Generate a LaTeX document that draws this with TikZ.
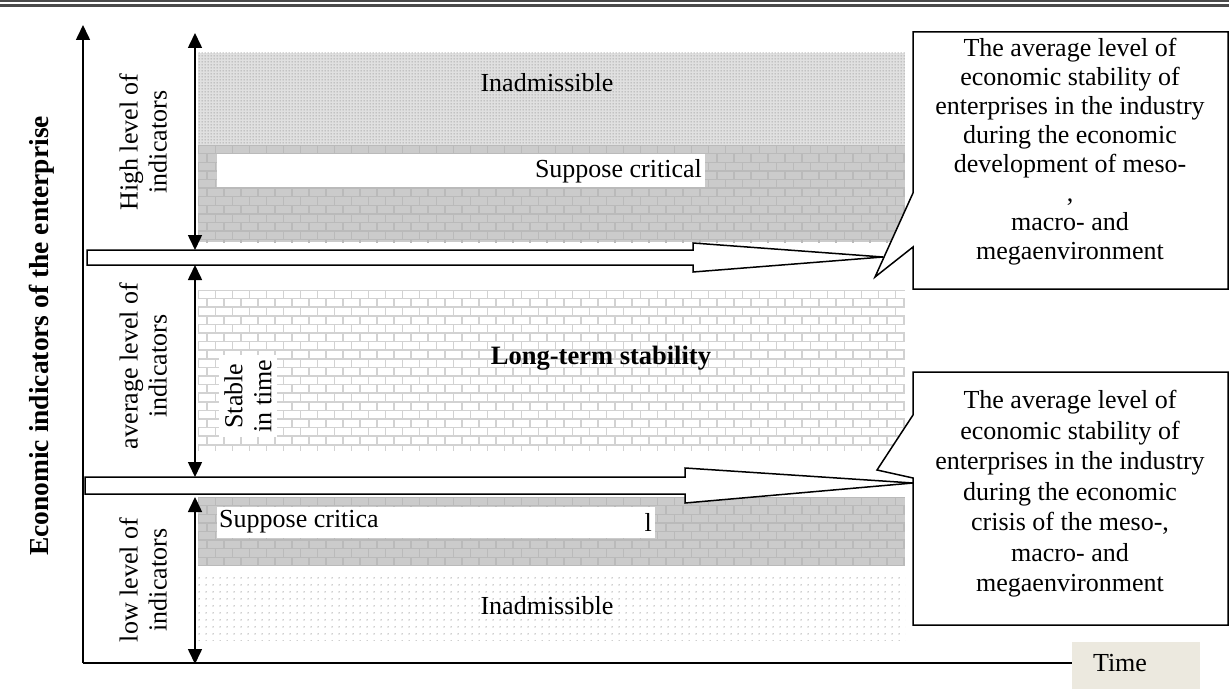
\documentclass[tikz,border=0pt]{standalone}
\usepackage{fontspec}
\setmainfont{Liberation Serif}
\usetikzlibrary{arrows.meta,patterns.meta}
\definecolor{topbar}{HTML}{4A4A4A}
\definecolor{timebg}{HTML}{ECE9DF}
\definecolor{darkbrick}{HTML}{CBCBCB}
\definecolor{darkmortar}{HTML}{BABABA}
\definecolor{lightmortar}{HTML}{D2D2D2}
\tikzdeclarepattern{name=densedots, type=uncolored, bounding box={(0pt,0pt) and (3pt,3pt)}, tile size={(3pt,3pt)}, code={\fill (1.5pt,1.5pt) circle (0.8pt);}}
\tikzdeclarepattern{name=sparsedots, type=uncolored, bounding box={(0pt,0pt) and (7pt,7pt)}, tile size={(7pt,7pt)}, code={\fill (3.5pt,3.5pt) circle (0.8pt);}}
\tikzset{
  txt/.style={font=\fontsize{26}{29}\selectfont, inner sep=0pt},
  lbl/.style={txt, align=center, rotate=90},
  dbl/.style={line width=1.6pt, {Triangle[length=15pt,width=14pt]}-{Triangle[length=15pt,width=14pt]}},
  hollow/.style={draw, line width=1.5pt, fill=white, line join=miter},
  callout/.style={draw, line width=1.5pt, fill=white, line join=miter},
  darkm/.style={draw=darkmortar, line width=1.4pt},
  lightm/.style={draw=lightmortar, line width=1.6pt},
}
\begin{document}
\begin{tikzpicture}[x=1pt,y=-1pt]
\useasboundingbox (0,0) rectangle (1229,693);
% top rules
\fill[topbar] (0,0) rectangle (1229,2);
\fill[topbar] (0,4.5) rectangle (1229,7.5);
% upper inadmissible (dense dots)
\fill[black!12] (198,53) rectangle (905,145);
\fill[pattern=densedots, pattern color=black!45] (198,53) rectangle (905,145);
% upper dark bricks
\begin{scope}
\clip (198,145) rectangle (905,242);
\fill[darkbrick] (198,145) rectangle (905,242);
\foreach \y [count=\i] in {145,153.6,...,245}{
  \draw[darkm] (198,\y) -- (905,\y);
  \pgfmathsetmacro\off{mod(\i,2)*8.5}
  \foreach \x in {190,207,...,905}{\draw[darkm] (\x+\off,\y) -- (\x+\off,\y+8.6);}
}
\end{scope}
% middle light bricks
\begin{scope}
\clip (198,290) rectangle (905,450);
\foreach \y [count=\i] in {290,298.6,...,452}{
  \draw[lightm] (198,\y) -- (905,\y);
  \pgfmathsetmacro\off{mod(\i,2)*8.5}
  \foreach \x in {190,207,...,905}{\draw[lightm] (\x+\off,\y) -- (\x+\off,\y+8.6);}
}
\end{scope}
% lower dark bricks
\begin{scope}
\clip (198,497) rectangle (905,565);
\fill[darkbrick] (198,497) rectangle (905,565);
\foreach \y [count=\i] in {497,505.6,...,567}{
  \draw[darkm] (198,\y) -- (905,\y);
  \pgfmathsetmacro\off{mod(\i,2)*8.5}
  \foreach \x in {190,207,...,905}{\draw[darkm] (\x+\off,\y) -- (\x+\off,\y+8.6);}
}
\end{scope}
% lower inadmissible (sparse dots)
\fill[pattern=sparsedots, pattern color=black!38] (198,577) rectangle (905,640);
% white boxes and texts
\fill[white] (217,154) rectangle (705,187);
\node[txt, anchor=east] (sc1) at (702,171) {Suppose critical};
\fill[white] (217,507) rectangle (655,538);
\node[txt, anchor=west] (sc2) at (219,522) {Suppose critica};
\node[txt, anchor=east] (sc2l) at (652,522) {l};
\node[txt] (in1) at (547,83) {Inadmissible};
\node[txt] (in2) at (547,606) {Inadmissible};
\node[txt, font=\fontsize{26.5}{29}\selectfont\bfseries] (lts) at (601,358) {Long-term stability};
\node[lbl, fill=white, inner sep=5pt] (sit) at (248,396) {Stable\\in time};
% left labels
\node[lbl] (hl) at (143,142) {High level of\\indicators};
\node[lbl] (al) at (143,366) {average level of\\indicators};
\node[lbl] (ll) at (143,580) {low level of\\indicators};
\node[lbl, font=\fontsize{27.5}{30}\selectfont\bfseries] (ax) at (42,336) {Economic indicators of the enterprise};
% axes
\coordinate (o) at (83,663);
\coordinate (ytop) at (83,25);
\node[fill=timebg, minimum width=128pt, minimum height=47pt, inner sep=0pt] (time) at (1136,665) {};
\node[txt] (timet) at (1120,663) {Time};
\draw[line width=1.6pt, -{Triangle[length=15pt,width=14pt]}] (o) -- (ytop);
\draw[line width=1.6pt] (o) -- (time.west |- o);
% double arrows
\coordinate (a1) at (195,33); \coordinate (a2) at (195,250);
\coordinate (a3) at (195,265); \coordinate (a4) at (195,477);
\coordinate (a5) at (195,497); \coordinate (a6) at (195,664);
\draw[dbl] (a1) -- (a2);
\draw[dbl] (a3) -- (a4);
\draw[dbl] (a5) -- (a6);
% hollow arrows
\draw[hollow] (87,250) -- (693,250) -- (693,243) -- (883,257) -- (693,272) -- (693,265) -- (87,265) -- cycle;
\draw[hollow] (85,477) -- (685,477) -- (685,468) -- (913,483) -- (685,503) -- (685,494) -- (85,494) -- cycle;
% callouts
\draw[callout] (913,32) -- (1228,32) -- (1228,289) -- (913,289) -- (913,247) -- (875,277) -- (913,193) -- cycle;
\draw[callout] (913,372) -- (1228,372) -- (1228,625) -- (913,625) -- (913,478) -- (877,470) -- (913,415) -- cycle;
\node[txt, align=center, anchor=north] (c1) at (1070,38) {The average level of\\economic stability of\\enterprises in the industry\\during the economic\\development of meso-\\,\\macro- and\\megaenvironment};
\node[txt, font=\fontsize{26}{30.5}\selectfont, align=center, anchor=north] (c2) at (1070,390) {The average level of\\economic stability of\\enterprises in the industry\\during the economic\\crisis of the meso-,\\macro- and\\megaenvironment};
\end{tikzpicture}
\end{document}
